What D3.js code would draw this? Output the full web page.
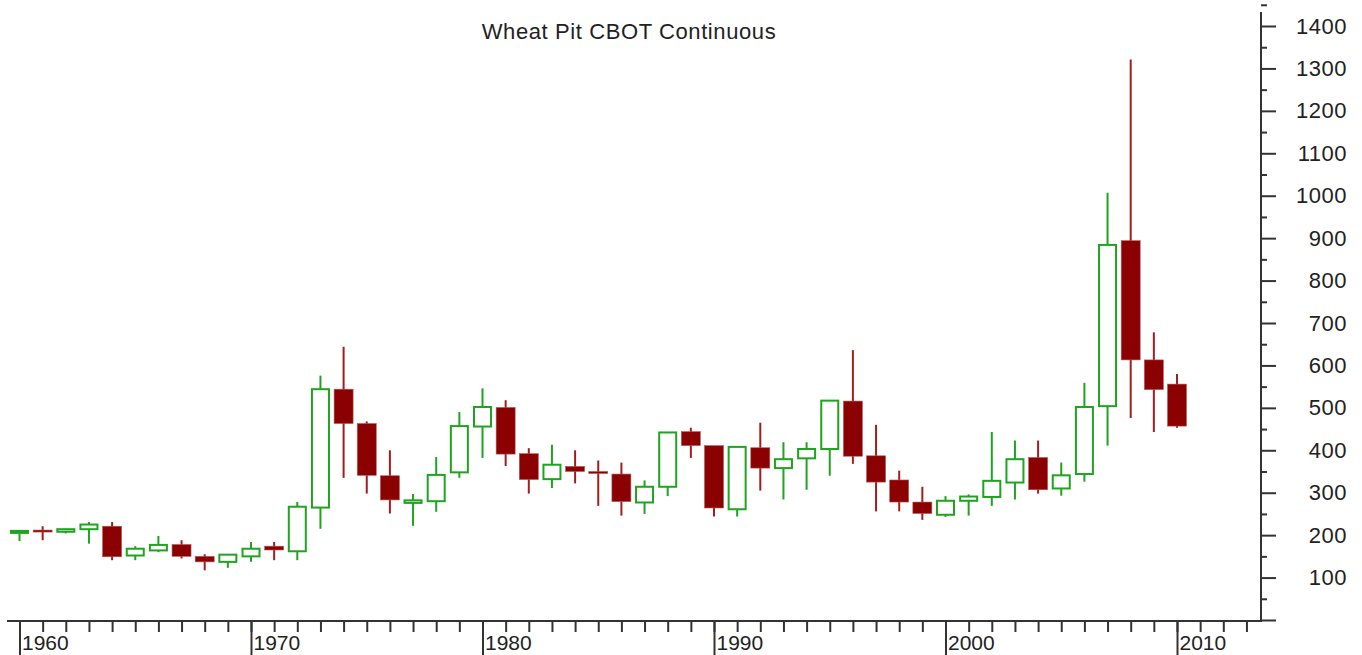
<!DOCTYPE html>
<html>
  <head>
    <meta charset="utf-8">
    <title>Wheat Pit CBOT Continuous</title>
    <script src="https://d3js.org/d3.v7.min.js"></script>
    <style>
      body { margin: 0; background: #fff; }
      text { font-family: "Liberation Sans", Arial, sans-serif; fill: #222; }
    </style>
  </head>
  <body>
    <div id="chart"></div>
    <script>
    // yearly candles
    const years = d3.range(1960, 2011);
    const open  = [208,212,208,214,221,152,164,178,150,137,150,174,162,265,544,463,340,276,280,348,
                   456,501,392,332,362,350,344,277,314,444,411,261,406,358,381,403,516,387,330,278,
                   248,281,290,324,383,310,344,504,894,613,556];
    const high  = [210,221,215,231,231,174,198,188,155,155,184,184,278,576,644,468,400,297,384,490,
                   546,518,405,413,400,376,371,329,443,453,410,409,465,419,419,518,636,460,352,314,
                   292,296,443,423,423,371,559,1007,1321,678,580];
    const low   = [186,188,204,180,141,141,160,145,117,123,137,141,141,215,335,298,251,222,255,335,
                   382,363,298,311,322,269,246,250,292,382,244,244,305,284,307,340,368,256,256,236,
                   243,246,269,284,298,293,326,411,476,443,453];
    const close = [210,210,214,225,149,168,177,150,137,154,168,165,267,544,463,341,283,282,342,457,
                   502,391,331,366,350,346,279,314,442,411,264,408,358,379,403,517,386,325,278,251,
                   281,291,328,379,307,341,502,884,613,543,457];

    const yTicks = d3.range(0, 1401, 100);

    const width = 1362, height = 655;
    const green = "#1ea41e", red = "#8b0000", wickRed = "#a31d1d", axisCol = "#333";

    const svg = d3.select("#chart").append("svg")
      .attr("width", width)
      .attr("height", height);

    // x: year -> centre of candle, y: price
    const x = d3.scaleLinear().domain([1960, 2010]).range([19.5, 1177]);
    const y = d3.scaleLinear().domain([0, 1400]).range([620, 26]);
    const bodyW = 19;

    // title
    svg.append("text")
      .attr("x", 629)
      .attr("y", 39)
      .attr("text-anchor", "middle")
      .style("font-size", "22px")
      .style("letter-spacing", "0.6px")
      .text("Wheat Pit CBOT Continuous");

    // bottom axis: yearly minor ticks
    const xMinor = svg.append("g")
      .attr("transform", "translate(0,621)")
      .call(d3.axisBottom(x).tickValues(d3.range(1960, 2014)).tickSize(11).tickFormat(""));
    xMinor.select(".domain").remove();
    xMinor.selectAll("line").attr("stroke", axisCol).attr("stroke-width", 2);

    // decade ticks with labels to the right of the tick
    const xMajor = svg.append("g")
      .attr("transform", "translate(0,621)")
      .call(d3.axisBottom(x).tickValues(d3.range(1960, 2011, 10)).tickSize(40).tickFormat(d3.format("d")));
    xMajor.select(".domain").remove();
    xMajor.selectAll("line").attr("stroke", axisCol).attr("stroke-width", 2);
    xMajor.selectAll("text")
      .attr("x", 2)
      .attr("y", 29)
      .attr("dy", 0)
      .attr("text-anchor", "start")
      .style("font-size", "21px")
      .attr("fill", "#222");

    svg.append("line")
      .attr("x1", 7).attr("x2", 1262)
      .attr("y1", 621).attr("y2", 621)
      .attr("stroke", axisCol).attr("stroke-width", 2);

    // right axis
    const yMinor = svg.append("g")
      .attr("transform", "translate(1261,0)")
      .call(d3.axisRight(y).tickValues(d3.range(50, 1451, 100)).tickSize(6).tickFormat(""));
    yMinor.select(".domain").remove();
    yMinor.selectAll("line").attr("stroke", axisCol).attr("stroke-width", 2);

    const yMajor = svg.append("g")
      .attr("transform", "translate(1261,0)")
      .call(d3.axisRight(y).tickValues(yTicks).tickSize(15).tickFormat(d => d === 0 ? "" : d));
    yMajor.select(".domain").remove();
    yMajor.selectAll("line").attr("stroke", axisCol).attr("stroke-width", 2);
    yMajor.selectAll("text")
      .attr("x", 86)
      .attr("text-anchor", "end")
      .style("font-size", "22px")
      .style("letter-spacing", "0.5px")
      .attr("fill", "#222");

    svg.append("line")
      .attr("x1", 1261).attr("x2", 1261)
      .attr("y1", 12).attr("y2", 622)
      .attr("stroke", axisCol).attr("stroke-width", 2);

    // candles
    const candles = years.map((yr, i) => ({
      year: yr, o: open[i], h: high[i], l: low[i], c: close[i], up: close[i] >= open[i]
    }));

    const g = svg.append("g");

    g.selectAll(".wick")
      .data(candles)
      .enter().append("line")
      .attr("class", "wick")
      .attr("x1", d => x(d.year)).attr("x2", d => x(d.year))
      .attr("y1", d => y(d.h)).attr("y2", d => y(d.l))
      .attr("stroke", d => d.up ? green : wickRed)
      .attr("stroke-width", 2);

    g.selectAll(".body")
      .data(candles)
      .enter().append("rect")
      .attr("class", "body")
      .attr("x", d => x(d.year) - (d.up ? bodyW - 2 : bodyW) / 2)
      .attr("width", d => d.up ? bodyW - 2 : bodyW)
      .attr("y", d => y(Math.max(d.o, d.c)))
      .attr("height", d => Math.max(2, Math.abs(y(d.o) - y(d.c))))
      .attr("fill", d => d.up ? "#fff" : red)
      .attr("stroke", d => d.up ? green : "#b35a5a")
      .attr("stroke-width", d => d.up ? 2 : 0.6);
    </script>
  </body>
</html>
